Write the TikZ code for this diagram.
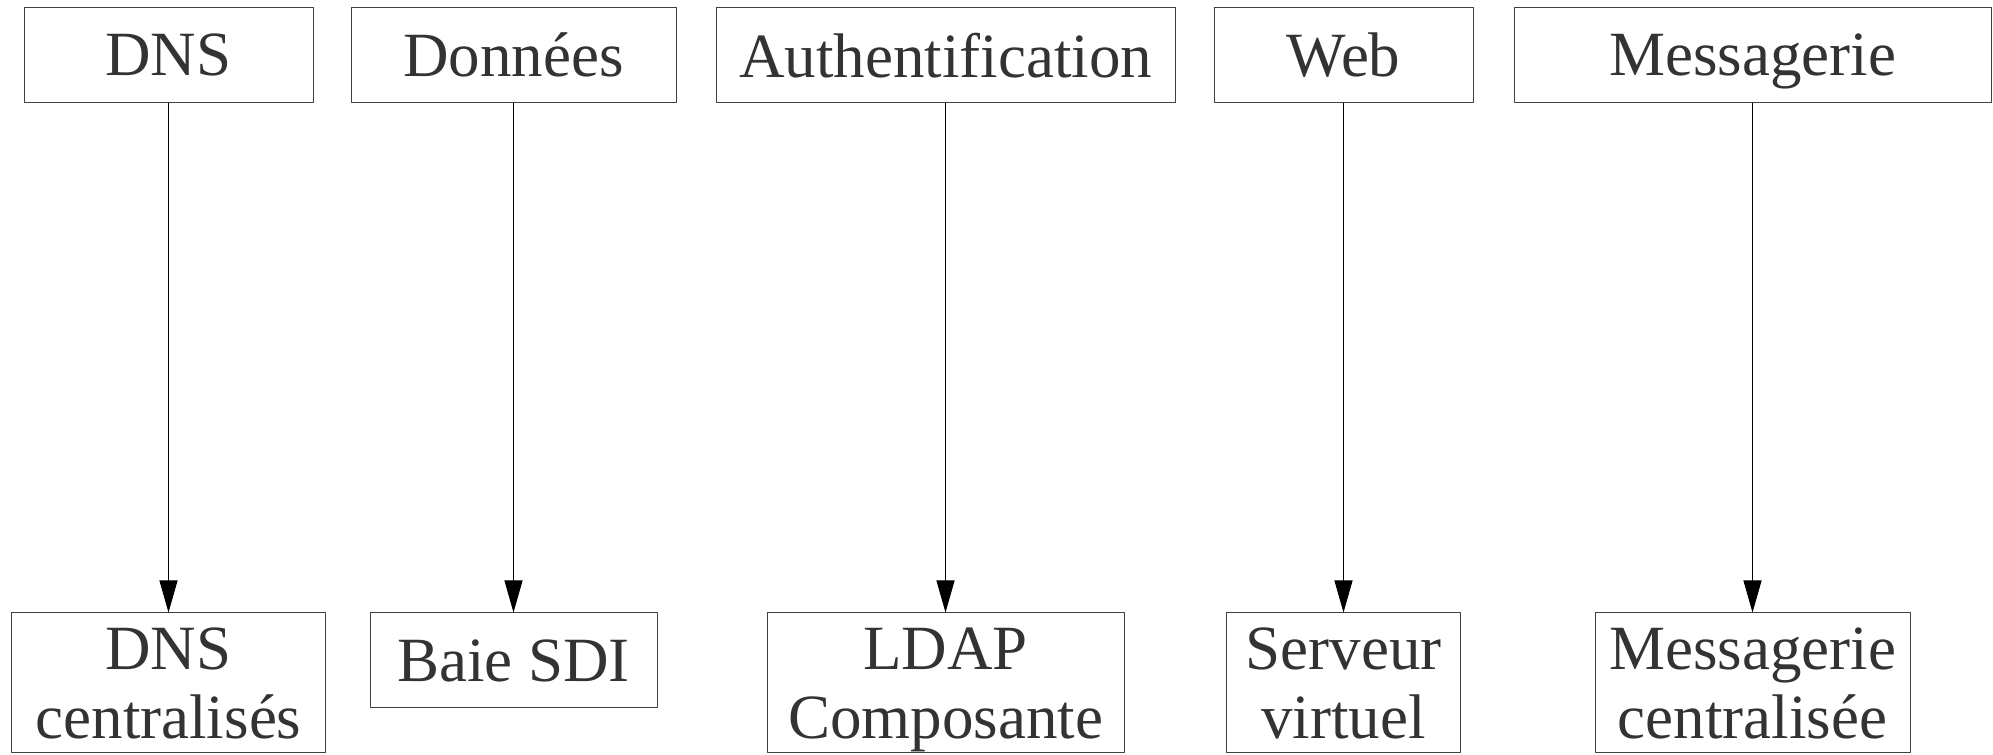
\documentclass[tikz,border=0pt]{standalone}
\usepackage{fontspec}
\setmainfont{Liberation Serif}
\usetikzlibrary{arrows.meta}
\definecolor{txtgray}{gray}{0.2}
\definecolor{boxgray}{gray}{0.25}
\tikzset{
  svcbox/.style={draw=boxgray,line width=1bp,inner sep=0pt,align=center,text=txtgray,
    font=\fontsize{63bp}{69bp}\selectfont,text depth=0pt,minimum height=95bp},
  hostbox/.style={svcbox,minimum height=140bp},
}
\begin{document}
\begin{tikzpicture}[>={Triangle[length=32bp,width=18bp]},line join=bevel,]
\useasboundingbox (0bp,0bp) rectangle (1993bp,755bp);
%%
\node (node_dns) at (168.5bp,700bp) [svcbox,minimum width=289bp] {DNS};
  \node (node_donnees) at (513.5bp,700bp) [svcbox,minimum width=325bp] {Données};
  \node (node_auth) at (945.5bp,700bp) [svcbox,minimum width=459bp] {Authentification};
  \node (node_web) at (1343.5bp,700bp) [svcbox,minimum width=259bp] {Web};
  \node (node_mess) at (1752.5bp,700bp) [svcbox,minimum width=477bp] {Messagerie};
%
\node (node_dnsc) at (168.5bp,72bp) [hostbox,minimum width=314bp] {DNS\\centralisés};
  \node (node_sdi) at (513.5bp,94.5bp) [svcbox,minimum width=287bp] {Baie SDI};
  \node (node_ldap) at (945.5bp,72bp) [hostbox,minimum width=357bp] {LDAP\\Composante};
  \node (node_vm) at (1343.5bp,72bp) [hostbox,minimum width=234bp] {Serveur\\virtuel};
  \node (node_messc) at (1752.5bp,72bp) [hostbox,minimum width=315bp] {Messagerie\\centralisée};
%
\draw [black,line width=1bp,->] (node_dns.south) -- (node_dnsc.north);
  \draw [black,line width=1bp,->] (node_donnees.south) -- (node_sdi.north);
  \draw [black,line width=1bp,->] (node_auth.south) -- (node_ldap.north);
  \draw [black,line width=1bp,->] (node_web.south) -- (node_vm.north);
  \draw [black,line width=1bp,->] (node_mess.south) -- (node_messc.north);
%
\end{tikzpicture}
\end{document}
